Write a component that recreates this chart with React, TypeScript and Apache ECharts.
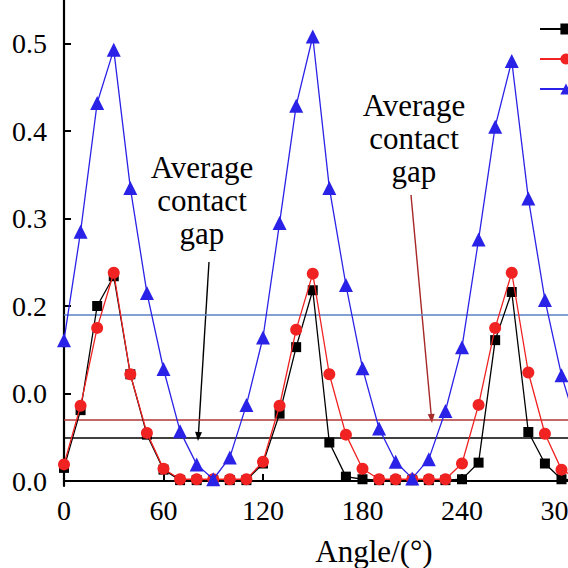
import React, { useEffect, useRef } from "react";
import * as echarts from "echarts";

const angles = [0, 10, 20, 30, 40, 50, 60, 70, 80, 90, 100, 110, 120, 130, 140, 150, 160, 170, 180, 190, 200, 210, 220, 230, 240, 250, 260, 270, 280, 290, 300, 310];
const seriesNames = ["Case 1", "Case 2", "Case 3"];
const blackValues = [0.015, 0.081, 0.2, 0.234, 0.122, 0.053, 0.013, 0.001, 0.001, 0.001, 0.001, 0.001, 0.02, 0.077, 0.153, 0.218, 0.044, 0.005, 0.002, 0.001, 0.001, 0.001, 0.001, 0.001, 0.002, 0.021, 0.161, 0.216, 0.056, 0.02, 0.002, 0.001];
const redValues = [0.019, 0.086, 0.175, 0.238, 0.122, 0.055, 0.014, 0.002, 0.002, 0.002, 0.002, 0.002, 0.022, 0.086, 0.173, 0.237, 0.122, 0.053, 0.014, 0.002, 0.002, 0.002, 0.002, 0.002, 0.02, 0.087, 0.175, 0.238, 0.124, 0.054, 0.013, 0.002];
const blueValues = [0.161, 0.285, 0.432, 0.493, 0.335, 0.215, 0.128, 0.057, 0.019, 0.002, 0.027, 0.087, 0.164, 0.295, 0.429, 0.508, 0.335, 0.224, 0.129, 0.06, 0.022, 0.003, 0.025, 0.08, 0.153, 0.276, 0.405, 0.48, 0.323, 0.207, 0.121, 0.058];
const averageGaps = [0.047, 0.066, 0.194];
const yTickValues = [0, 0.1, 0.2, 0.3, 0.4, 0.5];
const yTickLabels = ["0.0", "0.0", "0.2", "0.3", "0.4", "0.5"];
const annotationText = "Average\ncontact\ngap";
const xAxisName = "Angle/(°)";

const FONT = "Liberation Serif";
const OY = 20; // vertical offset of the drawing surface above the page top

export default function App() {
  const ref = useRef<HTMLDivElement>(null);
  useEffect(() => {
    if (!ref.current) return;
    const chart = echarts.init(ref.current, null, { renderer: "svg" });
    const mk = (i: number, vals: number[], color: string, markColor: string, symbol: string, size: number) => ({
      name: seriesNames[i],
      type: "line",
      data: angles.map((a, k) => [a, vals[k]]),
      symbol,
      symbolSize: size,
      lineStyle: { color, width: 1.3 },
      itemStyle: { color, borderColor: color, borderWidth: 0 },
      z: 2 + i,
      markLine: {
        silent: true,
        symbol: "none",
        label: { show: false },
        lineStyle: { color: markColor, width: 1.5, type: "solid" },
        data: [{ yAxis: averageGaps[i] }],
        z: 1,
      },
    });
    chart.setOption({
      animation: false,
      backgroundColor: "#ffffff",
      textStyle: { fontFamily: FONT },
      grid: { left: 64, right: 39, top: 11, bottom: 82, containLabel: false },
      legend: {
        orient: "vertical",
        left: 534,
        top: 10 + OY,
        itemWidth: 52,
        itemHeight: 14,
        itemGap: 2,
        textStyle: { fontFamily: FONT, fontSize: 28, color: "#000" },
        data: seriesNames,
      },
      xAxis: {
        type: "value",
        min: 0,
        max: 360,
        interval: 60,
        axisLine: { show: true, lineStyle: { color: "#000", width: 2.2 } },
        axisTick: { show: true, inside: true, length: 7, lineStyle: { color: "#000", width: 2 } },
        axisLabel: { fontFamily: FONT, fontSize: 28, color: "#000", margin: 10 },
        splitLine: { show: false },
      },
      yAxis: {
        type: "value",
        min: -0.0057,
        max: 0.56,
        axisLine: { show: true, lineStyle: { color: "#000", width: 2.2 } },
        axisTick: { show: true, inside: true, length: 7, customValues: yTickValues, lineStyle: { color: "#000", width: 2 } },
        axisLabel: {
          fontFamily: FONT,
          fontSize: 28,
          color: "#000",
          margin: 17,
          customValues: yTickValues,
          formatter: (v: number) => {
            const idx = yTickValues.findIndex((t) => Math.abs(t - v) < 1e-6);
            return idx >= 0 ? yTickLabels[idx] : "";
          },
        },
        splitLine: { show: false },
      },
      series: [
        mk(0, blackValues, "#000000", "#000000", "rect", 10),
        mk(1, redValues, "#f02222", "#b03434", "circle", 12),
        mk(2, blueValues, "#2a22e6", "#5a80c4", "triangle", 14),
      ],
      graphic: [
        {
          type: "text",
          style: { text: annotationText, fontFamily: FONT, fontSize: 31, lineHeight: 33, fill: "#000", align: "center", verticalAlign: "middle", x: 202, y: 200 + OY },
        },
        {
          type: "line",
          shape: { x1: 209, y1: 262 + OY, x2: 198.5, y2: 433 + OY },
          style: { stroke: "#000", lineWidth: 1.4 },
        },
        {
          type: "polygon",
          shape: { points: [[198, 441 + OY], [202, 432.2 + OY], [195.1, 431.8 + OY]] },
          style: { fill: "#000" },
        },
        {
          type: "line",
          shape: { x1: 411, y1: 195 + OY, x2: 431.2, y2: 415 + OY },
          style: { stroke: "#a62828", lineWidth: 1.4 },
        },
        {
          type: "polygon",
          shape: { points: [[432, 423 + OY], [434.65, 413.72 + OY], [427.68, 414.36 + OY]] },
          style: { fill: "#a62828" },
        },
        {
          type: "text",
          style: { text: annotationText, fontFamily: FONT, fontSize: 31, lineHeight: 33, fill: "#000", align: "center", verticalAlign: "middle", x: 414, y: 138 + OY },
        },
        {
          type: "text",
          style: { text: xAxisName, fontFamily: FONT, fontSize: 31, fill: "#000", align: "center", verticalAlign: "middle", x: 374, y: 551 + OY },
        },
      ],
    });
    return () => chart.dispose();
  }, []);
  return <div ref={ref} style={{ position: "fixed", left: 0, top: -OY, width: 700, height: 568 + OY }} />;
}
